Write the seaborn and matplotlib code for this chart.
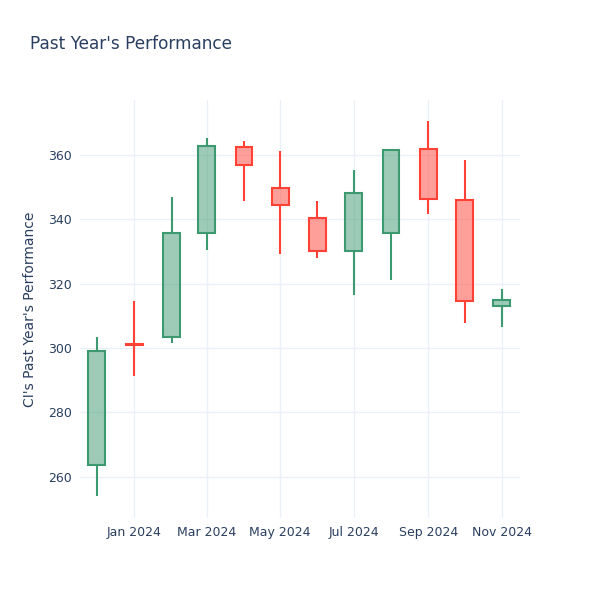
import matplotlib
matplotlib.use("Agg")
import matplotlib.pyplot as plt
import matplotlib.dates as mdates
import seaborn as sns
import pandas as pd
import numpy as np

dates = ["2023-12-01", "2024-01-01", "2024-02-01", "2024-03-01", "2024-04-01", "2024-05-01",
         "2024-06-01", "2024-07-01", "2024-08-01", "2024-09-01", "2024-10-01", "2024-11-01"]
opens = [263.7, 301.3, 303.4, 335.7, 362.5, 349.7, 340.4, 330.3, 335.8, 361.9, 345.9, 313.2]
highs = [303.4, 314.7, 346.9, 365.4, 364.4, 361.4, 345.6, 355.4, 362.0, 370.6, 358.5, 318.4]
lows = [253.9, 291.3, 301.6, 330.6, 345.6, 329.2, 328.1, 316.5, 321.2, 341.8, 307.7, 306.5]
closes = [299.2, 301.0, 335.9, 362.9, 356.9, 344.5, 330.3, 348.2, 361.5, 346.4, 314.7, 314.9]

df = pd.DataFrame({"date": pd.to_datetime(dates), "open": opens, "high": highs,
                   "low": lows, "close": closes})

sns.set_theme(style="white")
plt.rcParams["font.family"] = ["DejaVu Sans"]
TEXT = "#2a3f5f"
GRID = "#EBF0F8"
UP = "#3D9970"
DOWN = "#FF4136"

fig = plt.figure(figsize=(6, 6), dpi=100)
ax = fig.add_axes([80 / 600, 82 / 600, 440 / 600, 418 / 600])

x = mdates.date2num(df["date"])
width = 14.0
for xi, o, h, l, c in zip(x, df["open"], df["high"], df["low"], df["close"]):
    col = UP if c >= o else DOWN
    lo_b, hi_b = min(o, c), max(o, c)
    ax.vlines(xi, l, lo_b, color=col, lw=1.5, zorder=3)
    ax.vlines(xi, hi_b, h, color=col, lw=1.5, zorder=3)
    ax.bar(xi, hi_b - lo_b, bottom=lo_b, width=width, facecolor=matplotlib.colors.to_rgba(col, 0.5),
           edgecolor=col, linewidth=1.5, zorder=3)

ax.set_xlim(mdates.date2num(pd.Timestamp("2023-11-17")), mdates.date2num(pd.Timestamp("2024-11-16")))
ax.set_ylim(247.2, 377.1)
ax.set_yticks([260, 280, 300, 320, 340, 360])
ax.xaxis.set_major_locator(mdates.MonthLocator(bymonth=[1, 3, 5, 7, 9, 11]))
ax.xaxis.set_major_formatter(mdates.DateFormatter("%b %Y"))

ax.grid(True, color=GRID, linewidth=1, zorder=0)
ax.set_axisbelow(True)
for s in ax.spines.values():
    s.set_visible(False)
ax.tick_params(axis="both", length=0, labelsize=9, colors=TEXT, pad=6)
ax.set_ylabel("CI's Past Year's Performance", fontsize=10, color=TEXT, labelpad=8)
ax.set_xlabel("")
fig.text(30 / 600, 1 - 44 / 600, "Past Year's Performance", fontsize=12.2, color=TEXT,
         ha="left", va="center")

fig.savefig("out.png", dpi=100, facecolor="white")
